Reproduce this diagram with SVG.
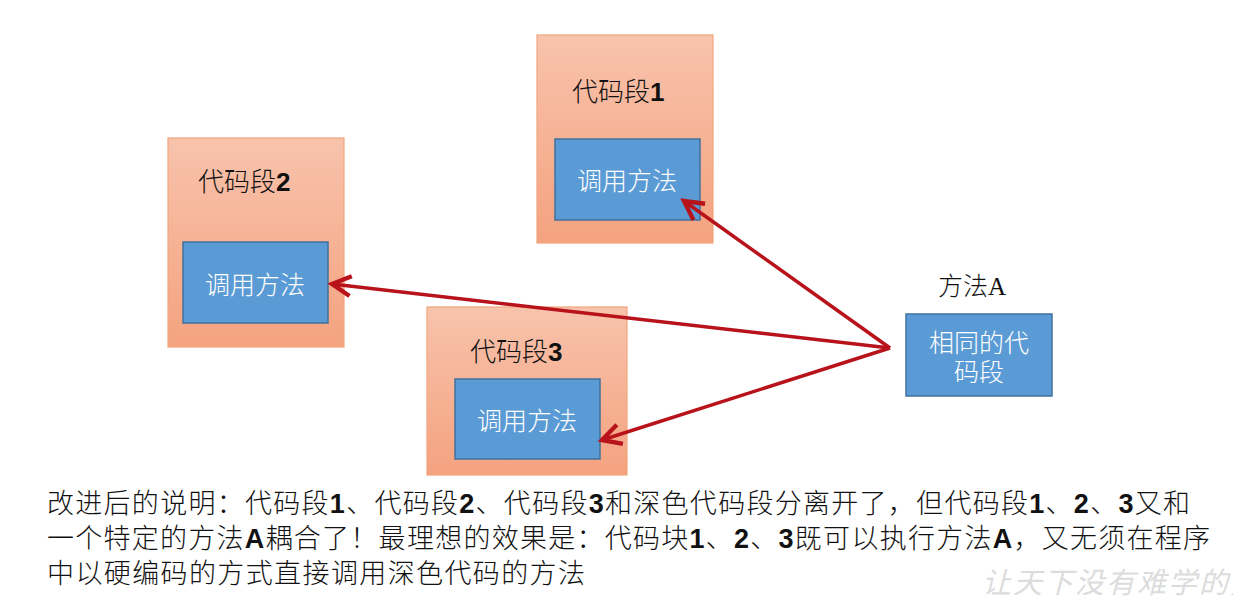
<svg xmlns="http://www.w3.org/2000/svg" width="1233" height="611" viewBox="0 0 1233 611">
<defs>
<linearGradient id="seg" x1="0" y1="0" x2="0" y2="1">
<stop offset="0" stop-color="#f8c3ac"/>
<stop offset="1" stop-color="#f4a27f"/>
</linearGradient>
<marker id="arr" markerUnits="userSpaceOnUse" markerWidth="30" markerHeight="30" viewBox="-20 -12 24 24" refX="0" refY="0" orient="auto">
<path d="M -15 -8 L 0 0 L -15 8" fill="none" stroke="#b8121b" stroke-width="3.5" stroke-linejoin="miter"/>
</marker>
<style>
.outer{fill:url(#seg);stroke:#f0a57e;stroke-width:1.2}
.inner{fill:#5b9bd5;stroke:#41719c;stroke-width:1.5}
.title{font-family:"Noto Sans CJK SC","Liberation Sans",sans-serif;font-size:26px;font-weight:300;fill:#111}
.num{font-family:"Liberation Sans",sans-serif;font-weight:bold}
.call{font-family:"Noto Sans CJK SC",sans-serif;font-size:25px;font-weight:300;fill:#fff;text-anchor:middle}
.note{font-family:"Noto Sans CJK SC","Liberation Sans",sans-serif;font-size:27px;font-weight:300;fill:#111}
.conn{fill:none;stroke:#b8121b;stroke-width:3.5;marker-end:url(#arr)}
</style>
</defs>
<rect width="1233" height="611" fill="#fff"/>
<g id="seg1">
<rect class="outer" x="537" y="35" width="176" height="208"/>
<text class="title" x="572" y="101">代码段<tspan class="num">1</tspan></text>
<rect class="inner" x="555" y="139" width="145" height="81"/>
<text class="call" x="627" y="190">调用方法</text>
</g>
<g id="seg2">
<rect class="outer" x="168" y="138" width="176" height="209"/>
<text class="title" x="198" y="191">代码段<tspan class="num">2</tspan></text>
<rect class="inner" x="183" y="242" width="145" height="81"/>
<text class="call" x="255" y="294">调用方法</text>
</g>
<g id="seg3">
<rect class="outer" x="427" y="307" width="200" height="168"/>
<text class="title" x="470" y="361">代码段<tspan class="num">3</tspan></text>
<rect class="inner" x="455" y="379" width="145" height="80"/>
<text class="call" x="527" y="430">调用方法</text>
</g>
<g id="methodA">
<text x="972" y="295" text-anchor="middle" font-family="Liberation Serif,'Noto Sans CJK SC',serif" font-size="25" font-weight="300" fill="#111">方法A</text>
<rect class="inner" x="906" y="314" width="146" height="82"/>
<text class="call" x="979" y="352">相同的代</text>
<text class="call" x="979" y="381">码段</text>
</g>
<g id="connectors">
<line class="conn" x1="890" y1="348" x2="332" y2="284"/>
<line class="conn" x1="890" y1="348" x2="684" y2="201"/>
<line class="conn" x1="890" y1="348" x2="602" y2="440"/>
</g>
<g id="note">
<text class="note" x="47" y="513" textLength="1143" lengthAdjust="spacing">改进后的说明：代码段<tspan class="num">1</tspan>、代码段<tspan class="num">2</tspan>、代码段<tspan class="num">3</tspan>和深色代码段分离开了，但代码段<tspan class="num">1</tspan>、<tspan class="num">2</tspan>、<tspan class="num">3</tspan>又和</text>
<text class="note" x="47" y="548" textLength="1163" lengthAdjust="spacing">一个特定的方法<tspan class="num">A</tspan>耦合了！最理想的效果是：代码块<tspan class="num">1</tspan>、<tspan class="num">2</tspan>、<tspan class="num">3</tspan>既可以执行方法<tspan class="num">A</tspan>，又无须在程序</text>
<text class="note" x="47" y="583" textLength="538" lengthAdjust="spacing">中以硬编码的方式直接调用深色代码的方法</text>
</g>
<text id="watermark" x="982" y="593" font-family="'Noto Sans CJK SC',sans-serif" font-size="29" fill="#dcdcdc" font-style="italic" letter-spacing="2">让天下没有难学的技术</text>
</svg>
